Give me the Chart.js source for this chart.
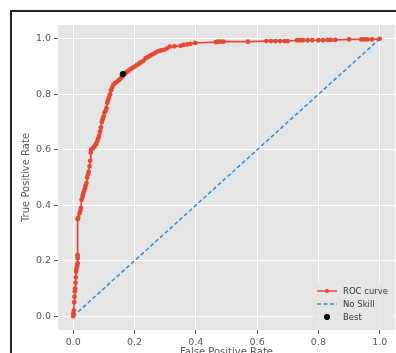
<!DOCTYPE html>
<html>
<head>
<meta charset="utf-8">
<script src="https://cdn.jsdelivr.net/npm/chart.js@4.4.0/dist/chart.umd.min.js"></script>
<style>
  html, body { margin: 0; padding: 0; background: #fff; overflow: hidden; }
  #wrap { position: relative; width: 396px; height: 353px; overflow: hidden; }
  #frame { position: absolute; left: 10px; top: 10px; width: 400px; height: 360px;
           border-left: 2px solid #222; border-top: 2px solid #222; }
  #box { position: absolute; left: 0; top: 0; width: 400px; height: 372px; }
  #legend { position: absolute; left: 313px; top: 282px; width: 80px; height: 45px;
            background: rgba(229,229,229,0.8); font-family: "DejaVu Sans", sans-serif;
            font-size: 8.5px; color: #333; }
  .row { position: absolute; left: 0; height: 12px; width: 80px; }
  .row span { position: absolute; left: 30px; top: 0; line-height: 12px; white-space: nowrap; }
  .row svg { position: absolute; left: 3px; top: 0; }
</style>
</head>
<body>
<div id="wrap">
  <div id="frame"></div>
  <div id="box"><canvas id="rocChart"></canvas></div>
  <div id="legend">
    <div class="row" style="top:3px">
      <svg width="22" height="12"><line x1="1" y1="6" x2="21" y2="6" stroke="#E24A33" stroke-width="1.5"/><circle cx="11" cy="6" r="2" fill="#E24A33"/></svg>
      <span>ROC curve</span>
    </div>
    <div class="row" style="top:16px">
      <svg width="22" height="12"><line x1="1" y1="6" x2="21" y2="6" stroke="#348ABD" stroke-width="1.5" stroke-dasharray="4,2.5"/></svg>
      <span>No Skill</span>
    </div>
    <div class="row" style="top:29px">
      <svg width="22" height="12"><circle cx="11" cy="6" r="3" fill="#000"/></svg>
      <span>Best</span>
    </div>
  </div>
</div>
<script>
// dados da curva ROC
const fpr = [0, 0, 0.002, 0.003, 0.004, 0.005, 0.006, 0.007, 0.008, 0.009, 0.010, 0.012, 0.014, 0.014, 0.014, 0.014,
  0.016, 0.020, 0.023, 0.025, 0.027, 0.030, 0.032, 0.035, 0.038, 0.040, 0.043, 0.045, 0.048, 0.050, 0.053, 0.055,
  0.057, 0.058, 0.063, 0.067, 0.071, 0.074, 0.078, 0.081, 0.084, 0.087, 0.090, 0.093, 0.096, 0.099, 0.102, 0.106,
  0.108, 0.111, 0.114, 0.117, 0.120, 0.123, 0.127, 0.131, 0.136, 0.142, 0.148, 0.153, 0.158, 0.162, 0.168, 0.174,
  0.180, 0.186, 0.193, 0.200, 0.207, 0.214, 0.220, 0.228, 0.236, 0.244, 0.252, 0.260, 0.268, 0.276, 0.285, 0.295,
  0.305, 0.315, 0.330, 0.350, 0.360, 0.372, 0.382, 0.398, 0.465, 0.472, 0.480, 0.490, 0.570, 0.630, 0.645, 0.660,
  0.675, 0.690, 0.700, 0.730, 0.740, 0.750, 0.765, 0.780, 0.800, 0.815, 0.830, 0.840, 0.855, 0.900, 0.940, 0.950,
  0.960, 0.975, 1.0];
const tpr = [0, 0.01, 0.02, 0.05, 0.07, 0.09, 0.10, 0.12, 0.14, 0.16, 0.17, 0.18, 0.19, 0.21, 0.22, 0.35,
  0.355, 0.37, 0.38, 0.39, 0.42, 0.43, 0.44, 0.45, 0.46, 0.47, 0.48, 0.50, 0.51, 0.52, 0.54, 0.56,
  0.59, 0.60, 0.605, 0.61, 0.615, 0.62, 0.63, 0.64, 0.65, 0.665, 0.68, 0.70, 0.71, 0.72, 0.735, 0.74,
  0.75, 0.77, 0.78, 0.79, 0.80, 0.815, 0.825, 0.835, 0.84, 0.845, 0.85, 0.855, 0.862, 0.87, 0.875, 0.88,
  0.885, 0.89, 0.895, 0.90, 0.905, 0.91, 0.915, 0.92, 0.93, 0.935, 0.94, 0.945, 0.95, 0.955, 0.958, 0.96,
  0.965, 0.972, 0.973, 0.975, 0.978, 0.98, 0.982, 0.985, 0.988, 0.99, 0.99, 0.99, 0.99, 0.992, 0.992, 0.992,
  0.992, 0.992, 0.992, 0.995, 0.995, 0.995, 0.995, 0.995, 0.995, 0.995, 0.996, 0.996, 0.996, 0.998, 0.998, 0.998,
  0.998, 0.998, 1.0];
const noSkillX = [0, 1];
const noSkillY = [0, 1];
const bestX = [0.162];
const bestY = [0.873];
const tickValues = [0, 0.2, 0.4, 0.6, 0.8, 1.0];

function toPoints(xs, ys) {
  return xs.map((x, i) => ({ x: x, y: ys[i] }));
}

// fundo cinza da área do gráfico (estilo ggplot)
const bgPlugin = {
  id: 'bg',
  beforeDraw(chart) {
    const a = chart.chartArea, c = chart.ctx;
    c.save();
    c.fillStyle = '#E5E5E5';
    c.fillRect(a.left, a.top, a.right - a.left, a.bottom - a.top);
    c.restore();
  }
};

const font = { family: 'DejaVu Sans', size: 9.5 };
const titleFont = { family: 'DejaVu Sans', size: 10 };

new Chart(document.getElementById('rocChart'), {
  type: 'scatter',
  data: {
    datasets: [
      {
        label: 'Best',
        data: toPoints(bestX, bestY),
        backgroundColor: '#111',
        borderColor: '#111',
        pointRadius: 2.8,
        order: 0
      },
      {
        label: 'ROC curve',
        data: toPoints(fpr, tpr),
        showLine: true,
        borderColor: '#E24A33',
        backgroundColor: '#E24A33',
        borderWidth: 1.7,
        pointRadius: 2.4,
        pointBorderWidth: 0,
        order: 1
      },
      {
        label: 'No Skill',
        data: toPoints(noSkillX, noSkillY),
        showLine: true,
        borderColor: '#348ABD',
        borderWidth: 1.5,
        borderDash: [4, 2.5],
        pointRadius: 0,
        order: 2
      }
    ]
  },
  options: {
    responsive: true,
    maintainAspectRatio: false,
    animation: false,
    layout: { padding: { left: 20, top: 25, right: 1, bottom: 14 } },
    plugins: { legend: { display: false }, tooltip: { enabled: false } },
    scales: {
      x: {
        type: 'linear',
        min: -0.05, max: 1.05,
        afterBuildTicks: s => { s.ticks = tickValues.map(v => ({ value: v })); },
        afterFit: s => { s.height = 28; s.paddingLeft = 0; s.paddingRight = 0; },
        ticks: { color: '#555', font: font, padding: 3, callback: v => v.toFixed(1) },
        grid: { color: '#fff', lineWidth: 1, tickColor: '#555', tickLength: 4, drawTicks: true },
        border: { display: false },
        title: { display: true, text: 'False Positive Rate', color: '#555',
                 font: titleFont, padding: { top: 2, bottom: 0 } }
      },
      y: {
        type: 'linear',
        min: -0.05, max: 1.05,
        afterBuildTicks: s => { s.ticks = tickValues.map(v => ({ value: v })); },
        afterFit: s => { s.width = 38; s.paddingTop = 0; s.paddingBottom = 0; },
        ticks: { color: '#555', font: font, padding: 3, callback: v => v.toFixed(1) },
        grid: { color: '#fff', lineWidth: 1, tickColor: '#555', tickLength: 4, drawTicks: true },
        border: { display: false },
        title: { display: true, text: 'True Positive Rate', color: '#555',
                 font: titleFont, padding: { top: 0, bottom: 2 } }
      }
    }
  },
  plugins: [bgPlugin]
});
</script>
</body>
</html>
